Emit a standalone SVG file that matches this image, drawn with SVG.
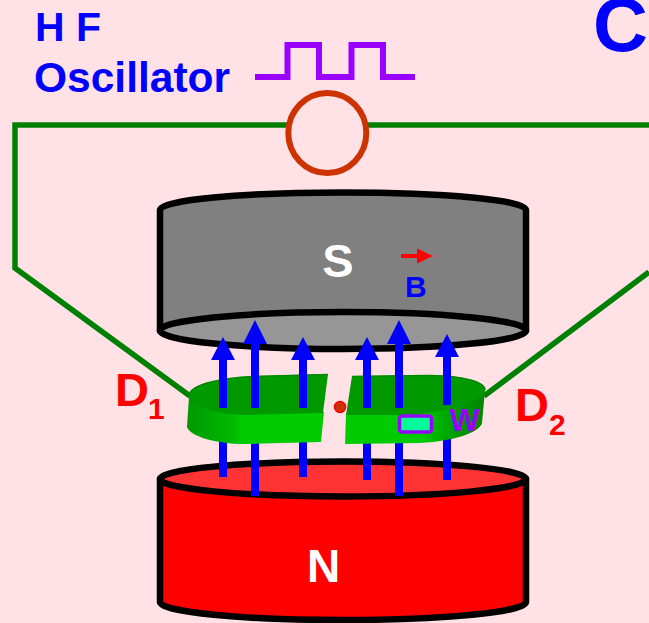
<svg xmlns="http://www.w3.org/2000/svg" width="649" height="623" viewBox="0 0 649 623">
<defs>
<linearGradient id="sideL" x1="0" x2="1" y1="0" y2="0"><stop offset="0" stop-color="#009900"/><stop offset="0.35" stop-color="#00BB00"/><stop offset="0.4" stop-color="#00CC00"/><stop offset="1" stop-color="#00CC00"/></linearGradient>
<linearGradient id="sideR" x1="0" x2="1" y1="0" y2="0"><stop offset="0" stop-color="#00CC00"/><stop offset="0.55" stop-color="#00CC00"/><stop offset="0.8" stop-color="#009900"/><stop offset="1" stop-color="#008800"/></linearGradient>
</defs>
<style>
.wire{fill:none;stroke:#008000;stroke-width:5.500}
.mag{stroke:#000;stroke-width:6.500;stroke-linejoin:round}
.arr{fill:#0000FF}
.t{font-family:"Liberation Sans",Arial,sans-serif;font-weight:bold}
.top{fill:#009900}
.edge{fill:none;stroke:#008800;stroke-width:1.500}
</style>
<rect width="649" height="623" fill="#FFE1E6"/>
<g id="connectors">
<path class="wire" d="M288 125H15V268L190 396"/>
<path class="wire" d="M368 125H649"/>
<path class="wire" d="M649 272L484 396"/>
</g>
<g id="magnet-n">
<path class="mag" fill="#FF0000" d="M160 479V602C160 612 242 620 343 620S526 612 526 602V479Z"/>
<ellipse class="mag" cx="343" cy="479" rx="183" ry="17.500" fill="#FF3333"/>
<text class="t" x="323.500" y="582" font-size="46" fill="#FFFFFF" text-anchor="middle">N</text>
</g>
<g id="magnet-s">
<path class="mag" fill="#808080" d="M160 210C160 200 242 192.500 343 192.500S526 200 526 210V330.500H160Z"/>
<ellipse class="mag" cx="343" cy="330.500" rx="183" ry="18.500" fill="#969696"/>
<text class="t" x="338" y="277" font-size="47" fill="#FFFFFF" text-anchor="middle">S</text>
</g>
<g id="field-lower">
<rect class="arr" x="219" y="400" width="8" height="77"/>
<rect class="arr" x="251" y="400" width="8" height="96"/>
<rect class="arr" x="299" y="400" width="8" height="77"/>
<rect class="arr" x="363" y="400" width="8" height="80"/>
<rect class="arr" x="395" y="400" width="8" height="96"/>
<rect class="arr" x="443" y="400" width="8" height="80"/>
</g>
<g id="dee-1">
<path fill="url(#sideL)" d="M189 396L187 427C190 436 215 444 245 444L321 442L324 412Z"/>
<path class="top" d="M328 374L255 376C215 378 189 386 189 396C190 406 215 414 245 415L323 413Z"/>
<path class="edge" d="M328 374.500L255 376.500C215 378 189 386 189 396"/>
</g>
<g id="dee-2">
<path fill="url(#sideR)" d="M346 415L345 444L420 443C455 441 480 432 482 423L485 390Z"/>
<path class="top" d="M352 376L430 375C465 376 485 382 485 390C482 402 440 415 400 415L346 415Z"/>
<path class="edge" d="M352 376.500L430 375.500C465 376 485 382 485 390"/>
</g>
<g id="field-upper">
<path class="arr" d="M219 408V360H211L223 337L235 360H227V408Z"/>
<path class="arr" d="M251 408V344H243L255 320L267 344H259V408Z"/>
<path class="arr" d="M299 408V360H291L303 337L315 360H307V408Z"/>
<path class="arr" d="M363 408V360H355L367 337L379 360H371V408Z"/>
<path class="arr" d="M395 408V344H387L399 320L411 344H403V408Z"/>
<path class="arr" d="M443 405V357H435L447 334L459 357H451V405Z"/>
</g>
<g id="center-dot"><circle cx="340" cy="407" r="5.500" fill="#CC3300" stroke="#FF0000" stroke-width="1.500"/></g>
<g id="window">
<rect x="399.500" y="416" width="32" height="16" rx="2.500" fill="#00FF99" stroke="#9900FF" stroke-width="3.500"/>
<text class="t" x="449.500" y="431" font-size="32" fill="#9900FF">W</text>
</g>
<g id="oscillator">
<ellipse cx="327.300" cy="133" rx="39" ry="40" fill="none" stroke="#CC3300" stroke-width="6"/>
<path fill="none" stroke="#9900FF" stroke-width="6" d="M255 77H287.500V45H319V77H351.500V45H383V77H415"/>
<text class="t" x="35" y="41" font-size="41" fill="#0000FF">H F</text>
<text class="t" x="34" y="92" font-size="42.500" fill="#0000FF">Oscillator</text>
</g>
<g id="labels">
<text class="t" x="593" y="51" font-size="76" fill="#0000FF">C</text>
<path fill="#FF0000" d="M401 254H417V248.500L433 256L417 263.500V258H401Z"/>
<text class="t" x="405" y="297" font-size="30" fill="#0000FF">B</text>
<text class="t" x="115" y="406" font-size="47" fill="#FF0000">D</text>
<text class="t" x="148" y="419" font-size="30" fill="#FF0000">1</text>
<text class="t" x="515" y="421" font-size="47" fill="#FF0000">D</text>
<text class="t" x="549" y="435" font-size="30" fill="#FF0000">2</text>
</g>
</svg>
